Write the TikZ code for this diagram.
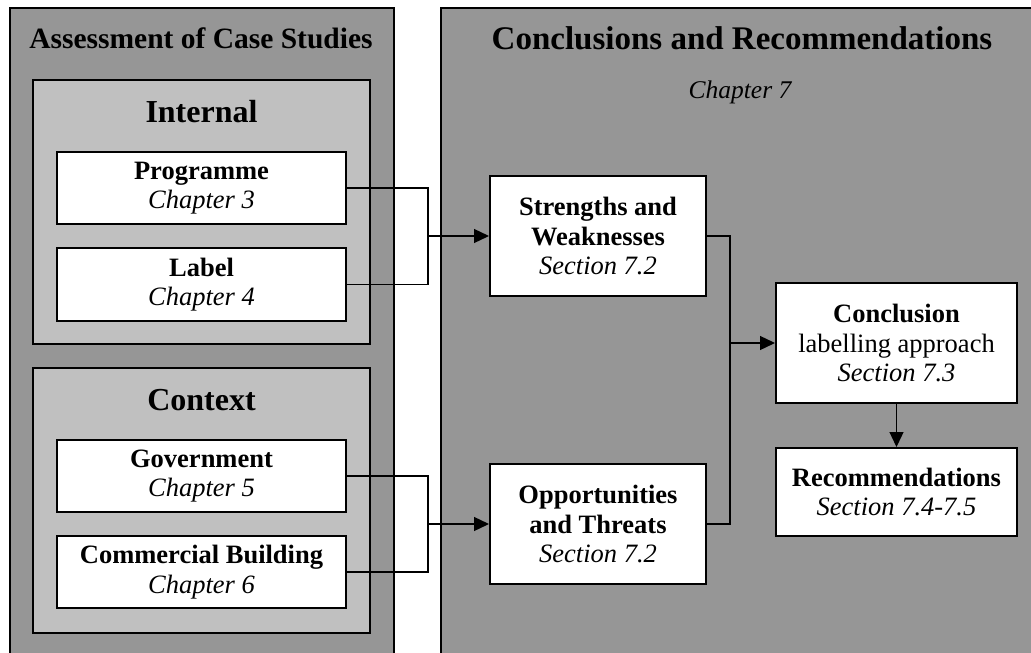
\documentclass[tikz,border=0pt]{standalone}
\usepackage{fontspec}
\setmainfont{Liberation Serif}
\usetikzlibrary{arrows.meta}

\definecolor{panelgray}{RGB}{150,150,150}
\definecolor{groupgray}{RGB}{192,192,192}

\tikzset{
  panel/.style={draw=black, line width=2.5pt, fill=panelgray},
  group/.style={draw=black, line width=1.5pt, fill=groupgray},
  wbox/.style={draw=black, line width=2pt, fill=white, inner sep=0pt,
               align=center, font=\fontsize{26.5}{29.5}\selectfont},
  conn/.style={line width=1.3pt},
  arr/.style={line width=1.3pt, -{Triangle[length=15pt,width=14pt]}},
  paneltitle/.style={anchor=base, inner sep=0pt, font=\bfseries\fontsize{29.5}{33}\selectfont},
  grouptitle/.style={anchor=base, inner sep=0pt, font=\bfseries\fontsize{32}{36}\selectfont}
}

\begin{document}
\begin{tikzpicture}[x=1pt, y=-1pt]
  \useasboundingbox (0,0) rectangle (1031,653);
  \clip (0,0) rectangle (1031,653);

  % two panels
  \draw[panel] (10,8) rectangle (394,675);
  \draw[panel] (441,8) rectangle (1050,675);

  \node[paneltitle] (t1) at (201,48) {Assessment of Case Studies};
  \node[anchor=base, inner sep=0pt, font=\bfseries\fontsize{33}{36}\selectfont] (t2) at (742,49) {Conclusions and Recommendations};
  \node[anchor=base, inner sep=0pt, font=\itshape\fontsize{25.5}{28}\selectfont] (t3) at (740,98) {Chapter 7};

  % groups in the left panel
  \draw[group] (33,80) rectangle (370,344);
  \node[grouptitle] (g1) at (201.5,122) {Internal};
  \draw[group] (33,368) rectangle (370,633);
  \node[grouptitle] (g2) at (201.5,410) {Context};

  % case study boxes
  \node[wbox, minimum width=289pt, minimum height=72pt] (prog) at (201.5,188)
    {\textbf{Programme}\\\textit{Chapter 3}};
  \node[wbox, minimum width=289pt, minimum height=73pt] (lab) at (201.5,284.5)
    {\textbf{Label}\\\textit{Chapter 4}};
  \node[wbox, minimum width=289pt, minimum height=72pt] (gov) at (201.5,476)
    {\textbf{Government}\\\textit{Chapter 5}};
  \node[wbox, minimum width=289pt, minimum height=72pt] (com) at (201.5,572)
    {\textbf{Commercial Building}\\\textit{Chapter 6}};

  % conclusion boxes
  \node[wbox, minimum width=216pt, minimum height=120pt] (sw) at (598,236)
    {\textbf{Strengths and}\\\textbf{Weaknesses}\\\textit{Section 7.2}};
  \node[wbox, minimum width=216pt, minimum height=120pt] (ot) at (598,524)
    {\textbf{Opportunities}\\\textbf{and Threats}\\\textit{Section 7.2}};
  \node[wbox, minimum width=241pt, minimum height=120pt] (conc) at (896.5,343)
    {\textbf{Conclusion}\\labelling approach\\\textit{Section 7.3}};
  \node[wbox, minimum width=241pt, minimum height=88pt] (rec) at (896.5,492)
    {\textbf{Recommendations}\\\textit{Section 7.4-7.5}};

  % connectors
  \coordinate (ja) at (428,0);
  \coordinate (jb) at (730,0);
  \draw[conn] (prog.east) -| (ja |- lab.east) -- (lab.east);
  \draw[arr] (ja |- sw.west) -- (sw.west);
  \draw[conn] (gov.east) -| (ja |- com.east) -- (com.east);
  \draw[arr] (ja |- ot.west) -- (ot.west);
  \draw[conn] (sw.east) -| (jb |- ot.east) -- (ot.east);
  \draw[arr] (jb |- conc.west) -- (conc.west);
  \draw[arr] (conc.south) -- (rec.north);
\end{tikzpicture}
\end{document}
